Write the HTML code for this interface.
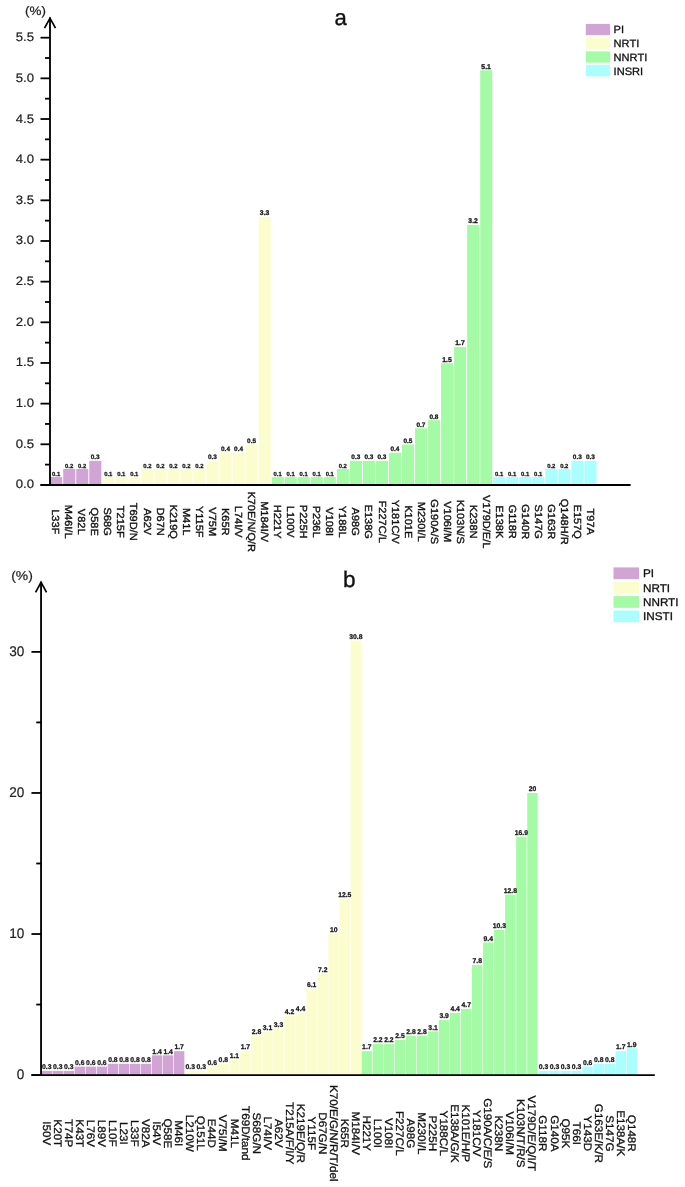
<!DOCTYPE html>
<html><head><meta charset="utf-8"><title>Figure</title>
<style>
html,body{margin:0;padding:0;background:#fff;}
body{width:685px;height:1187px;overflow:hidden;font-family:"Liberation Sans",sans-serif;}
svg text{text-rendering:geometricPrecision;}
svg{will-change:transform;display:block;font-family:"Liberation Sans",sans-serif;}
</style></head><body>
<svg width="685" height="1187" viewBox="0 0 685 1187">
<g id="chart-a">
<rect x="50.20" y="477.11" width="12.05" height="8.14" fill="#d2a3d5"/>
<rect x="63.23" y="468.98" width="12.05" height="16.27" fill="#d2a3d5"/>
<rect x="76.26" y="468.98" width="12.05" height="16.27" fill="#d2a3d5"/>
<rect x="89.29" y="460.84" width="12.05" height="24.41" fill="#d2a3d5"/>
<rect x="102.32" y="477.11" width="12.05" height="8.14" fill="#fcfdce"/>
<rect x="115.35" y="477.11" width="12.05" height="8.14" fill="#fcfdce"/>
<rect x="128.38" y="477.11" width="12.05" height="8.14" fill="#fcfdce"/>
<rect x="141.41" y="468.98" width="12.05" height="16.27" fill="#fcfdce"/>
<rect x="154.44" y="468.98" width="12.05" height="16.27" fill="#fcfdce"/>
<rect x="167.47" y="468.98" width="12.05" height="16.27" fill="#fcfdce"/>
<rect x="180.50" y="468.98" width="12.05" height="16.27" fill="#fcfdce"/>
<rect x="193.53" y="468.98" width="12.05" height="16.27" fill="#fcfdce"/>
<rect x="206.56" y="460.84" width="12.05" height="24.41" fill="#fcfdce"/>
<rect x="219.59" y="452.71" width="12.05" height="32.54" fill="#fcfdce"/>
<rect x="232.62" y="452.71" width="12.05" height="32.54" fill="#fcfdce"/>
<rect x="245.65" y="444.57" width="12.05" height="40.68" fill="#fcfdce"/>
<rect x="258.68" y="216.76" width="12.05" height="268.49" fill="#fcfdce"/>
<rect x="271.71" y="477.11" width="12.05" height="8.14" fill="#a5fba5"/>
<rect x="284.74" y="477.11" width="12.05" height="8.14" fill="#a5fba5"/>
<rect x="297.77" y="477.11" width="12.05" height="8.14" fill="#a5fba5"/>
<rect x="310.80" y="477.11" width="12.05" height="8.14" fill="#a5fba5"/>
<rect x="323.83" y="477.11" width="12.05" height="8.14" fill="#a5fba5"/>
<rect x="336.86" y="468.98" width="12.05" height="16.27" fill="#a5fba5"/>
<rect x="349.89" y="460.84" width="12.05" height="24.41" fill="#a5fba5"/>
<rect x="362.92" y="460.84" width="12.05" height="24.41" fill="#a5fba5"/>
<rect x="375.95" y="460.84" width="12.05" height="24.41" fill="#a5fba5"/>
<rect x="388.98" y="452.71" width="12.05" height="32.54" fill="#a5fba5"/>
<rect x="402.01" y="444.57" width="12.05" height="40.68" fill="#a5fba5"/>
<rect x="415.04" y="428.30" width="12.05" height="56.95" fill="#a5fba5"/>
<rect x="428.07" y="420.16" width="12.05" height="65.09" fill="#a5fba5"/>
<rect x="441.10" y="363.21" width="12.05" height="122.04" fill="#a5fba5"/>
<rect x="454.13" y="346.94" width="12.05" height="138.31" fill="#a5fba5"/>
<rect x="467.16" y="224.90" width="12.05" height="260.35" fill="#a5fba5"/>
<rect x="480.19" y="70.31" width="12.05" height="414.94" fill="#a5fba5"/>
<rect x="493.22" y="477.11" width="12.05" height="8.14" fill="#aafefe"/>
<rect x="506.25" y="477.11" width="12.05" height="8.14" fill="#aafefe"/>
<rect x="519.28" y="477.11" width="12.05" height="8.14" fill="#aafefe"/>
<rect x="532.31" y="477.11" width="12.05" height="8.14" fill="#aafefe"/>
<rect x="545.34" y="468.98" width="12.05" height="16.27" fill="#aafefe"/>
<rect x="558.37" y="468.98" width="12.05" height="16.27" fill="#aafefe"/>
<rect x="571.40" y="460.84" width="12.05" height="24.41" fill="#aafefe"/>
<rect x="584.43" y="460.84" width="12.05" height="24.41" fill="#aafefe"/>
<g font-size="40" font-weight="700" text-anchor="middle" fill="#1a1a1a" stroke="#1a1a1a" stroke-width="1.85">
<text transform="translate(56.12,475.81) scale(0.1475)">0.1</text>
<text transform="translate(69.15,467.68) scale(0.1475)">0.2</text>
<text transform="translate(82.18,467.68) scale(0.1475)">0.2</text>
<text transform="translate(95.20,459.34) scale(0.1600)">0.3</text>
<text transform="translate(108.23,475.81) scale(0.1475)">0.1</text>
<text transform="translate(121.27,475.81) scale(0.1475)">0.1</text>
<text transform="translate(134.29,475.81) scale(0.1475)">0.1</text>
<text transform="translate(147.32,467.68) scale(0.1475)">0.2</text>
<text transform="translate(160.35,467.68) scale(0.1475)">0.2</text>
<text transform="translate(173.38,467.68) scale(0.1475)">0.2</text>
<text transform="translate(186.41,467.68) scale(0.1475)">0.2</text>
<text transform="translate(199.44,467.68) scale(0.1475)">0.2</text>
<text transform="translate(212.47,459.34) scale(0.1600)">0.3</text>
<text transform="translate(225.50,451.21) scale(0.1600)">0.4</text>
<text transform="translate(238.53,451.21) scale(0.1600)">0.4</text>
<text transform="translate(251.56,443.07) scale(0.1600)">0.5</text>
<text transform="translate(264.59,215.06) scale(0.1700)">3.3</text>
<text transform="translate(277.62,475.81) scale(0.1475)">0.1</text>
<text transform="translate(290.65,475.81) scale(0.1475)">0.1</text>
<text transform="translate(303.68,475.81) scale(0.1475)">0.1</text>
<text transform="translate(316.71,475.81) scale(0.1475)">0.1</text>
<text transform="translate(329.74,475.81) scale(0.1475)">0.1</text>
<text transform="translate(342.77,467.68) scale(0.1475)">0.2</text>
<text transform="translate(355.80,459.34) scale(0.1600)">0.3</text>
<text transform="translate(368.83,459.34) scale(0.1600)">0.3</text>
<text transform="translate(381.86,459.34) scale(0.1600)">0.3</text>
<text transform="translate(394.89,451.21) scale(0.1600)">0.4</text>
<text transform="translate(407.92,443.07) scale(0.1600)">0.5</text>
<text transform="translate(420.95,426.80) scale(0.1600)">0.7</text>
<text transform="translate(433.98,418.66) scale(0.1600)">0.8</text>
<text transform="translate(447.01,361.51) scale(0.1700)">1.5</text>
<text transform="translate(460.04,345.24) scale(0.1700)">1.7</text>
<text transform="translate(473.07,223.20) scale(0.1700)">3.2</text>
<text transform="translate(486.10,68.61) scale(0.1700)">5.1</text>
<text transform="translate(499.13,475.81) scale(0.1475)">0.1</text>
<text transform="translate(512.16,475.81) scale(0.1475)">0.1</text>
<text transform="translate(525.19,475.81) scale(0.1475)">0.1</text>
<text transform="translate(538.22,475.81) scale(0.1475)">0.1</text>
<text transform="translate(551.25,467.68) scale(0.1475)">0.2</text>
<text transform="translate(564.28,467.68) scale(0.1475)">0.2</text>
<text transform="translate(577.31,459.34) scale(0.1600)">0.3</text>
<text transform="translate(590.35,459.34) scale(0.1600)">0.3</text>
</g>
<g font-size="10.3" text-anchor="middle" fill="#111" stroke="#111" stroke-width="0.35">
<text transform="translate(52.11,521.7) rotate(90) scale(1.07,1)">L33F</text>
<text transform="translate(65.17,521.7) rotate(90) scale(1.07,1)">M46I/L</text>
<text transform="translate(78.22,521.7) rotate(90) scale(1.07,1)">V82L</text>
<text transform="translate(91.28,521.7) rotate(90) scale(1.07,1)">Q58E</text>
<text transform="translate(104.34,521.7) rotate(90) scale(1.07,1)">S68G</text>
<text transform="translate(117.39,521.7) rotate(90) scale(1.07,1)">T215F</text>
<text transform="translate(130.45,521.7) rotate(90) scale(1.07,1)">T69D/N</text>
<text transform="translate(143.50,521.7) rotate(90) scale(1.07,1)">A62V</text>
<text transform="translate(156.56,521.7) rotate(90) scale(1.07,1)">D67N</text>
<text transform="translate(169.62,521.7) rotate(90) scale(1.07,1)">K219Q</text>
<text transform="translate(182.67,521.7) rotate(90) scale(1.07,1)">M41L</text>
<text transform="translate(195.73,521.7) rotate(90) scale(1.07,1)">Y115F</text>
<text transform="translate(208.78,521.7) rotate(90) scale(1.07,1)">V75M</text>
<text transform="translate(221.84,521.7) rotate(90) scale(1.07,1)">K65R</text>
<text transform="translate(234.90,521.7) rotate(90) scale(1.07,1)">L74I/V</text>
<text transform="translate(247.95,521.7) rotate(90) scale(1.07,1)">K70E/N/Q/R</text>
<text transform="translate(261.01,521.7) rotate(90) scale(1.07,1)">M184I/V</text>
<text transform="translate(274.06,521.7) rotate(90) scale(1.07,1)">H221Y</text>
<text transform="translate(287.12,521.7) rotate(90) scale(1.07,1)">L100V</text>
<text transform="translate(300.18,521.7) rotate(90) scale(1.07,1)">P225H</text>
<text transform="translate(313.23,521.7) rotate(90) scale(1.07,1)">P236L</text>
<text transform="translate(326.29,521.7) rotate(90) scale(1.07,1)">V108I</text>
<text transform="translate(339.34,521.7) rotate(90) scale(1.07,1)">Y188L</text>
<text transform="translate(352.40,521.7) rotate(90) scale(1.07,1)">A98G</text>
<text transform="translate(365.46,521.7) rotate(90) scale(1.07,1)">E138G</text>
<text transform="translate(378.51,521.7) rotate(90) scale(1.07,1)">F227C/L</text>
<text transform="translate(391.57,521.7) rotate(90) scale(1.07,1)">Y181C/V</text>
<text transform="translate(404.62,521.7) rotate(90) scale(1.07,1)">K101E</text>
<text transform="translate(417.68,521.7) rotate(90) scale(1.07,1)">M230I/L</text>
<text transform="translate(430.74,521.7) rotate(90) scale(1.07,1)">G190A/S</text>
<text transform="translate(443.79,521.7) rotate(90) scale(1.07,1)">V106I/M</text>
<text transform="translate(456.85,521.7) rotate(90) scale(1.07,1)">K103N/S</text>
<text transform="translate(469.90,521.7) rotate(90) scale(1.07,1)">K238N</text>
<text transform="translate(482.96,521.7) rotate(90) scale(1.07,1)">V179D/E/L</text>
<text transform="translate(496.02,521.7) rotate(90) scale(1.07,1)">E138K</text>
<text transform="translate(509.07,521.7) rotate(90) scale(1.07,1)">G118R</text>
<text transform="translate(522.13,521.7) rotate(90) scale(1.07,1)">G140R</text>
<text transform="translate(535.18,521.7) rotate(90) scale(1.07,1)">S147G</text>
<text transform="translate(548.24,521.7) rotate(90) scale(1.07,1)">G163R</text>
<text transform="translate(561.30,521.7) rotate(90) scale(1.07,1)">Q148H/R</text>
<text transform="translate(574.35,521.7) rotate(90) scale(1.07,1)">E157Q</text>
<text transform="translate(587.41,521.7) rotate(90) scale(1.07,1)">T97A</text>
</g>
<g stroke="#000" stroke-width="1.85" fill="none">
<path d="M50,17.6V484.95"/>
<path d="M40.5,484.95H630.6"/>
<path d="M44.5,28.200000000000003L50,18.200000000000003L55.5,28.200000000000003" stroke-linejoin="miter" stroke-width="1.7"/>
<path d="M40.5,484.95H50" stroke-width="1.8"/>
<path d="M40.5,444.29H50" stroke-width="1.8"/>
<path d="M40.5,403.63H50" stroke-width="1.8"/>
<path d="M40.5,362.97H50" stroke-width="1.8"/>
<path d="M40.5,322.31H50" stroke-width="1.8"/>
<path d="M40.5,281.65H50" stroke-width="1.8"/>
<path d="M40.5,240.99H50" stroke-width="1.8"/>
<path d="M40.5,200.33H50" stroke-width="1.8"/>
<path d="M40.5,159.67H50" stroke-width="1.8"/>
<path d="M40.5,119.01H50" stroke-width="1.8"/>
<path d="M40.5,78.35H50" stroke-width="1.8"/>
<path d="M40.5,37.69H50" stroke-width="1.8"/>
<path d="M45,464.62H50" stroke-width="1.8"/>
<path d="M45,423.96H50" stroke-width="1.8"/>
<path d="M45,383.30H50" stroke-width="1.8"/>
<path d="M45,342.64H50" stroke-width="1.8"/>
<path d="M45,301.98H50" stroke-width="1.8"/>
<path d="M45,261.32H50" stroke-width="1.8"/>
<path d="M45,220.66H50" stroke-width="1.8"/>
<path d="M45,180.00H50" stroke-width="1.8"/>
<path d="M45,139.34H50" stroke-width="1.8"/>
<path d="M45,98.68H50" stroke-width="1.8"/>
<path d="M45,58.02H50" stroke-width="1.8"/>
</g>
<g font-size="12.3" text-anchor="end" fill="#222" stroke="#222" stroke-width="0.2">
<text transform="translate(34.0,488.45) scale(1.07,1)">0.0</text>
<text transform="translate(34.0,447.79) scale(1.07,1)">0.5</text>
<text transform="translate(34.0,407.13) scale(1.07,1)">1.0</text>
<text transform="translate(34.0,366.47) scale(1.07,1)">1.5</text>
<text transform="translate(34.0,325.81) scale(1.07,1)">2.0</text>
<text transform="translate(34.0,285.15) scale(1.07,1)">2.5</text>
<text transform="translate(34.0,244.49) scale(1.07,1)">3.0</text>
<text transform="translate(34.0,203.83) scale(1.07,1)">3.5</text>
<text transform="translate(34.0,163.17) scale(1.07,1)">4.0</text>
<text transform="translate(34.0,122.51) scale(1.07,1)">4.5</text>
<text transform="translate(34.0,81.85) scale(1.07,1)">5.0</text>
<text transform="translate(34.0,41.19) scale(1.07,1)">5.5</text>
</g>
<text transform="translate(25.0,15.0) scale(1.09,1)" font-size="12.3" fill="#222" stroke="#222" stroke-width="0.2">(%)</text>
<text x="334.5" y="24.5" font-size="22.1" fill="#111" stroke="#111" stroke-width="0.35">a</text>
<rect x="585.8" y="23.90" width="24.3" height="11.2" fill="#d2a3d5"/>
<text transform="translate(613.6,33.30) scale(1.045,1)" font-size="10.6" fill="#111" stroke="#111" stroke-width="0.3">PI</text>
<rect x="585.8" y="37.65" width="24.3" height="11.2" fill="#fcfdce"/>
<text transform="translate(613.6,47.05) scale(1.045,1)" font-size="10.6" fill="#111" stroke="#111" stroke-width="0.3">NRTI</text>
<rect x="585.8" y="51.40" width="24.3" height="11.2" fill="#a5fba5"/>
<text transform="translate(613.6,60.80) scale(1.045,1)" font-size="10.6" fill="#111" stroke="#111" stroke-width="0.3">NNRTI</text>
<rect x="585.8" y="65.15" width="24.3" height="11.2" fill="#aafefe"/>
<text transform="translate(613.6,74.55) scale(1.045,1)" font-size="10.6" fill="#111" stroke="#111" stroke-width="0.3">INSRI</text>
</g>
<g id="chart-b">
<rect x="41.46" y="1070.87" width="10.44" height="4.53" fill="#d2a3d5"/>
<rect x="52.50" y="1070.87" width="10.44" height="4.53" fill="#d2a3d5"/>
<rect x="63.54" y="1070.87" width="10.44" height="4.53" fill="#d2a3d5"/>
<rect x="74.58" y="1066.64" width="10.44" height="8.76" fill="#d2a3d5"/>
<rect x="85.62" y="1066.64" width="10.44" height="8.76" fill="#d2a3d5"/>
<rect x="96.66" y="1066.64" width="10.44" height="8.76" fill="#d2a3d5"/>
<rect x="107.70" y="1063.81" width="10.44" height="11.59" fill="#d2a3d5"/>
<rect x="118.74" y="1063.81" width="10.44" height="11.59" fill="#d2a3d5"/>
<rect x="129.78" y="1063.81" width="10.44" height="11.59" fill="#d2a3d5"/>
<rect x="140.82" y="1063.81" width="10.44" height="11.59" fill="#d2a3d5"/>
<rect x="151.86" y="1055.35" width="10.44" height="20.05" fill="#d2a3d5"/>
<rect x="162.90" y="1055.35" width="10.44" height="20.05" fill="#d2a3d5"/>
<rect x="173.94" y="1051.12" width="10.44" height="24.28" fill="#d2a3d5"/>
<rect x="184.98" y="1070.87" width="10.44" height="4.53" fill="#fcfdce"/>
<rect x="196.02" y="1070.87" width="10.44" height="4.53" fill="#fcfdce"/>
<rect x="207.06" y="1066.64" width="10.44" height="8.76" fill="#fcfdce"/>
<rect x="218.10" y="1063.81" width="10.44" height="11.59" fill="#fcfdce"/>
<rect x="229.14" y="1059.58" width="10.44" height="15.82" fill="#fcfdce"/>
<rect x="240.18" y="1051.12" width="10.44" height="24.28" fill="#fcfdce"/>
<rect x="251.22" y="1035.60" width="10.44" height="39.80" fill="#fcfdce"/>
<rect x="262.26" y="1031.37" width="10.44" height="44.03" fill="#fcfdce"/>
<rect x="273.30" y="1028.55" width="10.44" height="46.85" fill="#fcfdce"/>
<rect x="284.34" y="1015.85" width="10.44" height="59.55" fill="#fcfdce"/>
<rect x="295.38" y="1013.03" width="10.44" height="62.37" fill="#fcfdce"/>
<rect x="306.42" y="989.05" width="10.44" height="86.35" fill="#fcfdce"/>
<rect x="317.46" y="973.53" width="10.44" height="101.87" fill="#fcfdce"/>
<rect x="328.50" y="934.03" width="10.44" height="141.37" fill="#fcfdce"/>
<rect x="339.54" y="898.76" width="10.44" height="176.64" fill="#fcfdce"/>
<rect x="350.58" y="640.60" width="10.44" height="434.80" fill="#fcfdce"/>
<rect x="361.62" y="1051.12" width="10.44" height="24.28" fill="#a5fba5"/>
<rect x="372.66" y="1044.06" width="10.44" height="31.34" fill="#a5fba5"/>
<rect x="383.70" y="1044.06" width="10.44" height="31.34" fill="#a5fba5"/>
<rect x="394.74" y="1039.83" width="10.44" height="35.57" fill="#a5fba5"/>
<rect x="405.78" y="1035.60" width="10.44" height="39.80" fill="#a5fba5"/>
<rect x="416.82" y="1035.60" width="10.44" height="39.80" fill="#a5fba5"/>
<rect x="427.86" y="1031.37" width="10.44" height="44.03" fill="#a5fba5"/>
<rect x="438.90" y="1020.08" width="10.44" height="55.32" fill="#a5fba5"/>
<rect x="449.94" y="1013.03" width="10.44" height="62.37" fill="#a5fba5"/>
<rect x="460.98" y="1008.80" width="10.44" height="66.60" fill="#a5fba5"/>
<rect x="472.02" y="965.07" width="10.44" height="110.33" fill="#a5fba5"/>
<rect x="483.06" y="942.49" width="10.44" height="132.91" fill="#a5fba5"/>
<rect x="494.10" y="929.80" width="10.44" height="145.60" fill="#a5fba5"/>
<rect x="505.14" y="894.53" width="10.44" height="180.87" fill="#a5fba5"/>
<rect x="516.18" y="836.69" width="10.44" height="238.71" fill="#a5fba5"/>
<rect x="527.22" y="792.96" width="10.44" height="282.44" fill="#a5fba5"/>
<rect x="538.26" y="1070.87" width="10.44" height="4.53" fill="#aafefe"/>
<rect x="549.30" y="1070.87" width="10.44" height="4.53" fill="#aafefe"/>
<rect x="560.34" y="1070.87" width="10.44" height="4.53" fill="#aafefe"/>
<rect x="571.38" y="1070.87" width="10.44" height="4.53" fill="#aafefe"/>
<rect x="582.42" y="1066.64" width="10.44" height="8.76" fill="#aafefe"/>
<rect x="593.46" y="1063.81" width="10.44" height="11.59" fill="#aafefe"/>
<rect x="604.50" y="1063.81" width="10.44" height="11.59" fill="#aafefe"/>
<rect x="615.54" y="1051.12" width="10.44" height="24.28" fill="#aafefe"/>
<rect x="626.58" y="1048.30" width="10.44" height="27.10" fill="#aafefe"/>
<g font-size="40" font-weight="700" text-anchor="middle" fill="#1a1a1a" stroke="#1a1a1a" stroke-width="1.54">
<text transform="translate(46.68,1069.07) scale(0.1700)">0.3</text>
<text transform="translate(57.72,1069.07) scale(0.1700)">0.3</text>
<text transform="translate(68.76,1069.07) scale(0.1700)">0.3</text>
<text transform="translate(79.80,1064.84) scale(0.1700)">0.6</text>
<text transform="translate(90.84,1064.84) scale(0.1700)">0.6</text>
<text transform="translate(101.88,1064.84) scale(0.1700)">0.6</text>
<text transform="translate(112.92,1062.01) scale(0.1700)">0.8</text>
<text transform="translate(123.96,1062.01) scale(0.1700)">0.8</text>
<text transform="translate(135.00,1062.01) scale(0.1700)">0.8</text>
<text transform="translate(146.04,1062.01) scale(0.1700)">0.8</text>
<text transform="translate(157.08,1053.55) scale(0.1700)">1.4</text>
<text transform="translate(168.12,1053.55) scale(0.1700)">1.4</text>
<text transform="translate(179.16,1049.32) scale(0.1700)">1.7</text>
<text transform="translate(190.20,1069.07) scale(0.1700)">0.3</text>
<text transform="translate(201.24,1069.07) scale(0.1700)">0.3</text>
<text transform="translate(212.28,1064.84) scale(0.1700)">0.6</text>
<text transform="translate(223.32,1062.01) scale(0.1700)">0.8</text>
<text transform="translate(234.36,1057.78) scale(0.1700)">1.1</text>
<text transform="translate(245.40,1049.32) scale(0.1700)">1.7</text>
<text transform="translate(256.44,1033.80) scale(0.1700)">2.8</text>
<text transform="translate(267.48,1029.57) scale(0.1700)">3.1</text>
<text transform="translate(278.52,1026.75) scale(0.1700)">3.3</text>
<text transform="translate(289.56,1014.05) scale(0.1700)">4.2</text>
<text transform="translate(300.60,1011.23) scale(0.1700)">4.4</text>
<text transform="translate(311.64,987.25) scale(0.1700)">6.1</text>
<text transform="translate(322.68,971.73) scale(0.1700)">7.2</text>
<text transform="translate(333.72,932.23) scale(0.1700)">10</text>
<text transform="translate(344.76,896.96) scale(0.1700)">12.5</text>
<text transform="translate(355.80,638.80) scale(0.1700)">30.8</text>
<text transform="translate(366.84,1049.32) scale(0.1700)">1.7</text>
<text transform="translate(377.88,1042.26) scale(0.1700)">2.2</text>
<text transform="translate(388.92,1042.26) scale(0.1700)">2.2</text>
<text transform="translate(399.96,1038.03) scale(0.1700)">2.5</text>
<text transform="translate(411.00,1033.80) scale(0.1700)">2.8</text>
<text transform="translate(422.04,1033.80) scale(0.1700)">2.8</text>
<text transform="translate(433.08,1029.57) scale(0.1700)">3.1</text>
<text transform="translate(444.12,1018.28) scale(0.1700)">3.9</text>
<text transform="translate(455.16,1011.23) scale(0.1700)">4.4</text>
<text transform="translate(466.20,1007.00) scale(0.1700)">4.7</text>
<text transform="translate(477.24,963.27) scale(0.1700)">7.8</text>
<text transform="translate(488.28,940.69) scale(0.1700)">9.4</text>
<text transform="translate(499.32,928.00) scale(0.1700)">10.3</text>
<text transform="translate(510.36,892.73) scale(0.1700)">12.8</text>
<text transform="translate(521.40,834.89) scale(0.1700)">16.9</text>
<text transform="translate(532.44,791.16) scale(0.1700)">20</text>
<text transform="translate(543.48,1069.07) scale(0.1700)">0.3</text>
<text transform="translate(554.52,1069.07) scale(0.1700)">0.3</text>
<text transform="translate(565.56,1069.07) scale(0.1700)">0.3</text>
<text transform="translate(576.60,1069.07) scale(0.1700)">0.3</text>
<text transform="translate(587.64,1064.84) scale(0.1700)">0.6</text>
<text transform="translate(598.68,1062.01) scale(0.1700)">0.8</text>
<text transform="translate(609.72,1062.01) scale(0.1700)">0.8</text>
<text transform="translate(620.76,1049.32) scale(0.1700)">1.7</text>
<text transform="translate(631.80,1046.50) scale(0.1700)">1.9</text>
</g>
<g font-size="11.0" text-anchor="middle" fill="#111" stroke="#111" stroke-width="0.3">
<text transform="translate(42.91,1133.3) rotate(90) scale(1.06,1)">I50V</text>
<text transform="translate(53.95,1133.3) rotate(90) scale(1.06,1)">K20T</text>
<text transform="translate(64.98,1133.3) rotate(90) scale(1.06,1)">T74P</text>
<text transform="translate(76.02,1133.3) rotate(90) scale(1.06,1)">K43T</text>
<text transform="translate(87.05,1133.3) rotate(90) scale(1.06,1)">L76V</text>
<text transform="translate(98.09,1133.3) rotate(90) scale(1.06,1)">L89V</text>
<text transform="translate(109.12,1133.3) rotate(90) scale(1.06,1)">L10F</text>
<text transform="translate(120.16,1133.3) rotate(90) scale(1.06,1)">L23I</text>
<text transform="translate(131.19,1133.3) rotate(90) scale(1.06,1)">L33F</text>
<text transform="translate(142.23,1133.3) rotate(90) scale(1.06,1)">V82A</text>
<text transform="translate(153.26,1133.3) rotate(90) scale(1.06,1)">I54V</text>
<text transform="translate(164.30,1133.3) rotate(90) scale(1.06,1)">Q58E</text>
<text transform="translate(175.33,1133.3) rotate(90) scale(1.06,1)">M46I</text>
<text transform="translate(186.37,1133.3) rotate(90) scale(1.06,1)">L210W</text>
<text transform="translate(197.40,1133.3) rotate(90) scale(1.06,1)">Q151L</text>
<text transform="translate(208.44,1133.3) rotate(90) scale(1.06,1)">E44D</text>
<text transform="translate(219.47,1133.3) rotate(90) scale(1.06,1)">V75I/M</text>
<text transform="translate(230.51,1133.3) rotate(90) scale(1.06,1)">M41L</text>
<text transform="translate(241.54,1133.3) rotate(90) scale(1.06,1)">T69D/tand</text>
<text transform="translate(252.58,1133.3) rotate(90) scale(1.06,1)">S68G/N</text>
<text transform="translate(263.61,1133.3) rotate(90) scale(1.06,1)">L74I/V</text>
<text transform="translate(274.65,1133.3) rotate(90) scale(1.06,1)">A62V</text>
<text transform="translate(285.68,1133.3) rotate(90) scale(1.06,1)">T215A/F/I/Y</text>
<text transform="translate(296.72,1133.3) rotate(90) scale(1.06,1)">K219E/Q/R</text>
<text transform="translate(307.75,1133.3) rotate(90) scale(1.06,1)">Y115F</text>
<text transform="translate(318.79,1133.3) rotate(90) scale(1.06,1)">D67G/N</text>
<text transform="translate(329.82,1133.3) rotate(90) scale(1.06,1)">K70/E/G/N/R/T/del</text>
<text transform="translate(340.86,1133.3) rotate(90) scale(1.06,1)">K65R</text>
<text transform="translate(351.89,1133.3) rotate(90) scale(1.06,1)">M184I/V</text>
<text transform="translate(362.93,1133.3) rotate(90) scale(1.06,1)">H221Y</text>
<text transform="translate(373.96,1133.3) rotate(90) scale(1.06,1)">L100I</text>
<text transform="translate(385.00,1133.3) rotate(90) scale(1.06,1)">V108I</text>
<text transform="translate(396.03,1133.3) rotate(90) scale(1.06,1)">F227C/L</text>
<text transform="translate(407.07,1133.3) rotate(90) scale(1.06,1)">A98G</text>
<text transform="translate(418.10,1133.3) rotate(90) scale(1.06,1)">M230I/L</text>
<text transform="translate(429.14,1133.3) rotate(90) scale(1.06,1)">P225H</text>
<text transform="translate(440.17,1133.3) rotate(90) scale(1.06,1)">Y188C/L</text>
<text transform="translate(451.21,1133.3) rotate(90) scale(1.06,1)">E138A/G/K</text>
<text transform="translate(462.24,1133.3) rotate(90) scale(1.06,1)">K101E/H/P</text>
<text transform="translate(473.28,1133.3) rotate(90) scale(1.06,1)">Y181C/V</text>
<text transform="translate(484.31,1133.3) rotate(90) scale(1.06,1)">G190A/C/E/S</text>
<text transform="translate(495.35,1133.3) rotate(90) scale(1.06,1)">K238N</text>
<text transform="translate(506.38,1133.3) rotate(90) scale(1.06,1)">V106I/M</text>
<text transform="translate(517.42,1133.3) rotate(90) scale(1.06,1)">K103N/T/R/S</text>
<text transform="translate(528.45,1133.3) rotate(90) scale(1.06,1)">V179D/E/Q/I/T</text>
<text transform="translate(539.49,1133.3) rotate(90) scale(1.06,1)">G118R</text>
<text transform="translate(550.52,1133.3) rotate(90) scale(1.06,1)">G140A</text>
<text transform="translate(561.56,1133.3) rotate(90) scale(1.06,1)">Q95K</text>
<text transform="translate(572.59,1133.3) rotate(90) scale(1.06,1)">T66I</text>
<text transform="translate(583.63,1133.3) rotate(90) scale(1.06,1)">Y143D</text>
<text transform="translate(594.66,1133.3) rotate(90) scale(1.06,1)">G163E/K/R</text>
<text transform="translate(605.70,1133.3) rotate(90) scale(1.06,1)">S147G</text>
<text transform="translate(616.73,1133.3) rotate(90) scale(1.06,1)">E138A/K</text>
<text transform="translate(627.77,1133.3) rotate(90) scale(1.06,1)">Q148R</text>
</g>
<g stroke="#000" stroke-width="1.85" fill="none">
<path d="M41.05,581.7V1075.1"/>
<path d="M31.5,1075.1H654.8"/>
<path d="M35.55,592.3000000000001L41.05,582.3000000000001L46.55,592.3000000000001" stroke-linejoin="miter" stroke-width="1.7"/>
<path d="M31.449999999999996,1075.10H41.05" stroke-width="1.8"/>
<path d="M31.449999999999996,934.03H41.05" stroke-width="1.8"/>
<path d="M31.449999999999996,792.96H41.05" stroke-width="1.8"/>
<path d="M31.449999999999996,651.89H41.05" stroke-width="1.8"/>
<path d="M36.25,1004.56H41.05" stroke-width="1.8"/>
<path d="M36.25,863.49H41.05" stroke-width="1.8"/>
<path d="M36.25,722.42H41.05" stroke-width="1.8"/>
</g>
<g font-size="14" text-anchor="end" fill="#222" stroke="#222" stroke-width="0.2">
<text transform="translate(24.3,1078.90) scale(0.97,1)">0</text>
<text transform="translate(24.3,937.83) scale(0.97,1)">10</text>
<text transform="translate(24.3,796.76) scale(0.97,1)">20</text>
<text transform="translate(24.3,655.69) scale(0.97,1)">30</text>
</g>
<text transform="translate(11.2,580) scale(1.09,1)" font-size="12.8" fill="#222" stroke="#222" stroke-width="0.2">(%)</text>
<text x="342.9" y="587" font-size="22.6" fill="#111" stroke="#111" stroke-width="0.35">b</text>
<rect x="613.5" y="567.40" width="25.5" height="11.7" fill="#d2a3d5"/>
<text transform="translate(643,577.20) scale(1.045,1)" font-size="11.2" fill="#111" stroke="#111" stroke-width="0.3">PI</text>
<rect x="613.5" y="581.77" width="25.5" height="11.7" fill="#fcfdce"/>
<text transform="translate(643,591.57) scale(1.045,1)" font-size="11.2" fill="#111" stroke="#111" stroke-width="0.3">NRTI</text>
<rect x="613.5" y="596.14" width="25.5" height="11.7" fill="#a5fba5"/>
<text transform="translate(643,605.94) scale(1.045,1)" font-size="11.2" fill="#111" stroke="#111" stroke-width="0.3">NNRTI</text>
<rect x="613.5" y="610.51" width="25.5" height="11.7" fill="#aafefe"/>
<text transform="translate(643,620.31) scale(1.045,1)" font-size="11.2" fill="#111" stroke="#111" stroke-width="0.3">INSTI</text>
</g>
</svg>
</body></html>
